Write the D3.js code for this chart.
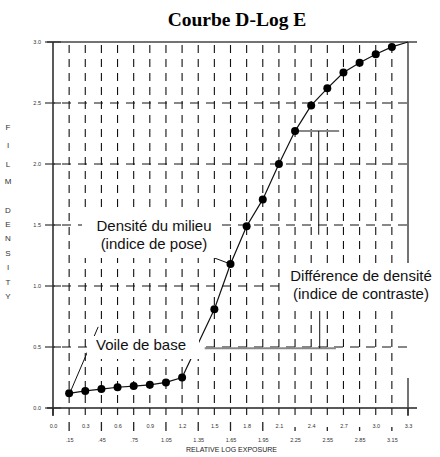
<!DOCTYPE html>
<html><head><meta charset="utf-8">
<script src="https://cdn.jsdelivr.net/npm/d3@7"></script>
<style>body{margin:0;background:#fff}svg{display:block}</style>
</head><body><svg id="c" width="440" height="457"></svg>
<script>
// ---- data ----
const exposure = [0.15,0.3,0.45,0.6,0.75,0.9,1.05,1.2,1.5,1.65,1.8,1.95,2.1,2.25,2.4,2.55,2.7,2.85,3.0,3.15];
const density  = [0.12,0.14,0.155,0.17,0.18,0.19,0.21,0.25,0.81,1.18,1.49,1.71,2.0,2.27,2.48,2.62,2.75,2.83,2.9,2.96];
const curveEnd = [3.3, 3.0];
const majorTicks = ["0.0","0.3","0.6","0.9","1.2","1.5","1.8","2.1","2.4","2.7","3.0","3.3"];
const minorTicks = [".15",".45",".75","1.05","1.35","1.65","1.95","2.25","2.55","2.85","3.15"];
const yTicks = ["0.0","0.5","1.0","1.5","2.0","2.5","3.0"];
const yTitle = ["F","I","L","M","","D","E","N","S","I","T","Y"];
const title = "Courbe D-Log E";
const xTitle = "RELATIVE LOG EXPOSURE";
const notes = [
  {lines:["Densité du milieu","(indice de pose)"]},
  {lines:["Voile de base"]},
  {lines:["Différence de densité","(indice de contraste)"]}
];
// annotation levels in data units
const baseLevel = 0.49, contrastTop = 2.27, contrastX = 2.47;

// ---- chart ----
const svg = d3.select("#c");
const x = d3.scaleLinear().domain([0,3.3]).range([53,408]);
const y = d3.scaleLinear().domain([0,3]).range([408,42]);
const ink = "#111";
const sans = "'Liberation Sans',Arial,sans-serif";

svg.append("text").attr("x",237).attr("y",26).attr("text-anchor","middle")
  .attr("font-family","'Liberation Serif','Times New Roman',serif").attr("font-weight","bold")
  .attr("font-size",19.5).text(title);

const g = svg.append("g");
// vertical dashed grid
const gridX = d3.range(1,22).map(i=>+(i*0.15).toFixed(2));
g.selectAll("line.vg").data(gridX).join("line")
  .attr("x1",d=>x(d)).attr("x2",d=>x(d)).attr("y1",y(3)).attr("y2",y(0))
  .attr("stroke",ink).attr("stroke-width",1.1).attr("stroke-dasharray","8,6").attr("stroke-dashoffset",-3);
// horizontal dashed grid
const gridY = [0.5,1.0,1.5,2.0,2.5];
g.selectAll("line.hg").data(gridY).join("line")
  .attr("x1",x(0)).attr("x2",x(3.3)).attr("y1",d=>y(d)).attr("y2",d=>y(d))
  .attr("stroke",ink).attr("stroke-width",1.1).attr("stroke-dasharray","9,7").attr("stroke-dashoffset",-9);

// frame
g.append("line").attr("x1",47).attr("x2",417).attr("y1",y(3)).attr("y2",y(3)).attr("stroke","#444").attr("stroke-width",1.5);
g.append("line").attr("x1",47).attr("x2",417).attr("y1",y(0)).attr("y2",y(0)).attr("stroke","#222").attr("stroke-width",1.5);
g.append("line").attr("x1",x(0)).attr("x2",x(0)).attr("y1",y(3)).attr("y2",y(0)+8).attr("stroke","#222").attr("stroke-width",1.5);
g.append("line").attr("x1",x(3.3)).attr("x2",x(3.3)).attr("y1",y(3)).attr("y2",263).attr("stroke","#444").attr("stroke-width",1.5);
g.append("line").attr("x1",x(3.3)).attr("x2",x(3.3)).attr("y1",378).attr("y2",y(0)+8).attr("stroke","#444").attr("stroke-width",1.5);

// y ticks via axis
const yAxis = d3.axisLeft(y).tickValues(yTicks.map(Number)).tickFormat((d,i)=>yTicks[i]).tickSize(0).tickPadding(12);
const ya = g.append("g").attr("transform",`translate(${x(0)},0)`).call(yAxis);
ya.select(".domain").remove();
ya.selectAll("text").attr("font-family",sans).attr("font-size",5.5).attr("fill","#333");
g.selectAll("line.yt").data(yTicks.map(Number)).join("line")
  .attr("x1",45).attr("x2",61).attr("y1",d=>y(d)).attr("y2",d=>y(d)).attr("stroke","#333").attr("stroke-width",1.2);

// x ticks below axis every 0.15
g.selectAll("line.xt").data(d3.range(0,23).map(i=>i*0.15)).join("line")
  .attr("x1",d=>x(d)).attr("x2",d=>x(d)).attr("y1",y(0)).attr("y2",y(0)+7).attr("stroke","#222").attr("stroke-width",1.2);

// x labels: two rows via axes
const xa1 = d3.axisBottom(x).tickValues(majorTicks.map(Number)).tickFormat((d,i)=>majorTicks[i]).tickSize(0).tickPadding(16);
const r1 = g.append("g").attr("transform",`translate(0,${y(0)})`).call(xa1);
r1.select(".domain").remove();
const xa2 = d3.axisBottom(x).tickValues(minorTicks.map(Number)).tickFormat((d,i)=>minorTicks[i]).tickSize(0).tickPadding(30);
const r2 = g.append("g").attr("transform",`translate(0,${y(0)})`).call(xa2);
r2.select(".domain").remove();
[r1,r2].forEach(r=>r.selectAll("text").attr("font-family",sans).attr("font-size",5.5).attr("fill","#333"));
// bars between labels in row 1
g.selectAll("line.bar").data(minorTicks.map(Number)).join("line")
  .attr("x1",d=>x(d)).attr("x2",d=>x(d))
  .attr("y1",d=>d>2.1? y(0)+19 : y(0)+14).attr("y2",y(0)+23)
  .attr("stroke","#222").attr("stroke-width",1.3);

g.append("text").attr("x",x(1.65)+1).attr("y",452).attr("text-anchor","middle")
  .attr("font-family",sans).attr("font-size",7).attr("fill","#222").text(xTitle);

// y title vertical letters
const yPos = [127,145,164,181,196,210,224,238,253,267,282,296];
g.selectAll("text.yl").data(yTitle).join("text")
  .attr("x",8).attr("y",(d,i)=>yPos[i]+3).attr("text-anchor","middle")
  .attr("font-family",sans).attr("font-size",8).attr("fill","#333").text(d=>d);

// annotation lines (under boxes)
const ann = g.append("g");
ann.append("line").attr("x1",x(1.41)).attr("x2",x(2.63)).attr("y1",y(baseLevel)).attr("y2",y(baseLevel)).attr("stroke","#888").attr("stroke-width",2);
ann.append("line").attr("x1",x(2.27)).attr("x2",x(2.66)).attr("y1",y(contrastTop)).attr("y2",y(contrastTop)).attr("stroke","#888").attr("stroke-width",2);
ann.append("line").attr("x1",x(contrastX)).attr("x2",x(contrastX)).attr("y1",y(contrastTop)).attr("y2",y(1.42)).attr("stroke",ink).attr("stroke-width",1);
ann.append("line").attr("x1",x(contrastX)+1).attr("x2",x(contrastX)+1).attr("y1",y(0.81)).attr("y2",y(baseLevel)).attr("stroke",ink).attr("stroke-width",1);
// leader lines
ann.append("line").attr("x1",x(0.165)).attr("y1",y(0.14)).attr("x2",x(0.42)).attr("y2",y(0.665)).attr("stroke",ink).attr("stroke-width",1);
ann.append("line").attr("x1",x(1.5)).attr("y1",y(1.23)).attr("x2",x(1.62)).attr("y2",y(1.19)).attr("stroke",ink).attr("stroke-width",1);

// curve
const pts = exposure.map((e,i)=>[e,density[i]]).concat([curveEnd]);
g.append("path").attr("d",d3.line().x(d=>x(d[0])).y(d=>y(d[1]))(pts))
  .attr("fill","none").attr("stroke",ink).attr("stroke-width",1.2);

// white label boxes
const boxes = [[82,212,140,46],[87,336,112,23],[284,263,156,48]];
g.selectAll("rect.bx").data(boxes).join("rect")
  .attr("x",d=>d[0]).attr("y",d=>d[1]).attr("width",d=>d[2]).attr("height",d=>d[3]).attr("fill","#fff");

// dots
g.selectAll("circle").data(exposure).join("circle")
  .attr("cx",d=>x(d)).attr("cy",(d,i)=>y(density[i])).attr("r",4).attr("fill","#000");

// notes text
const notePos = [[154,231,249],[141,350],[361,281,299]];
notes.forEach((n,k)=>{
  n.lines.forEach((t,j)=>{
    g.append("text").attr("x",notePos[k][0]).attr("y",notePos[k][1+j]).attr("text-anchor","middle")
      .attr("font-family",sans).attr("font-size",15).attr("fill","#111").text(t);
  });
});
</script></body></html>
